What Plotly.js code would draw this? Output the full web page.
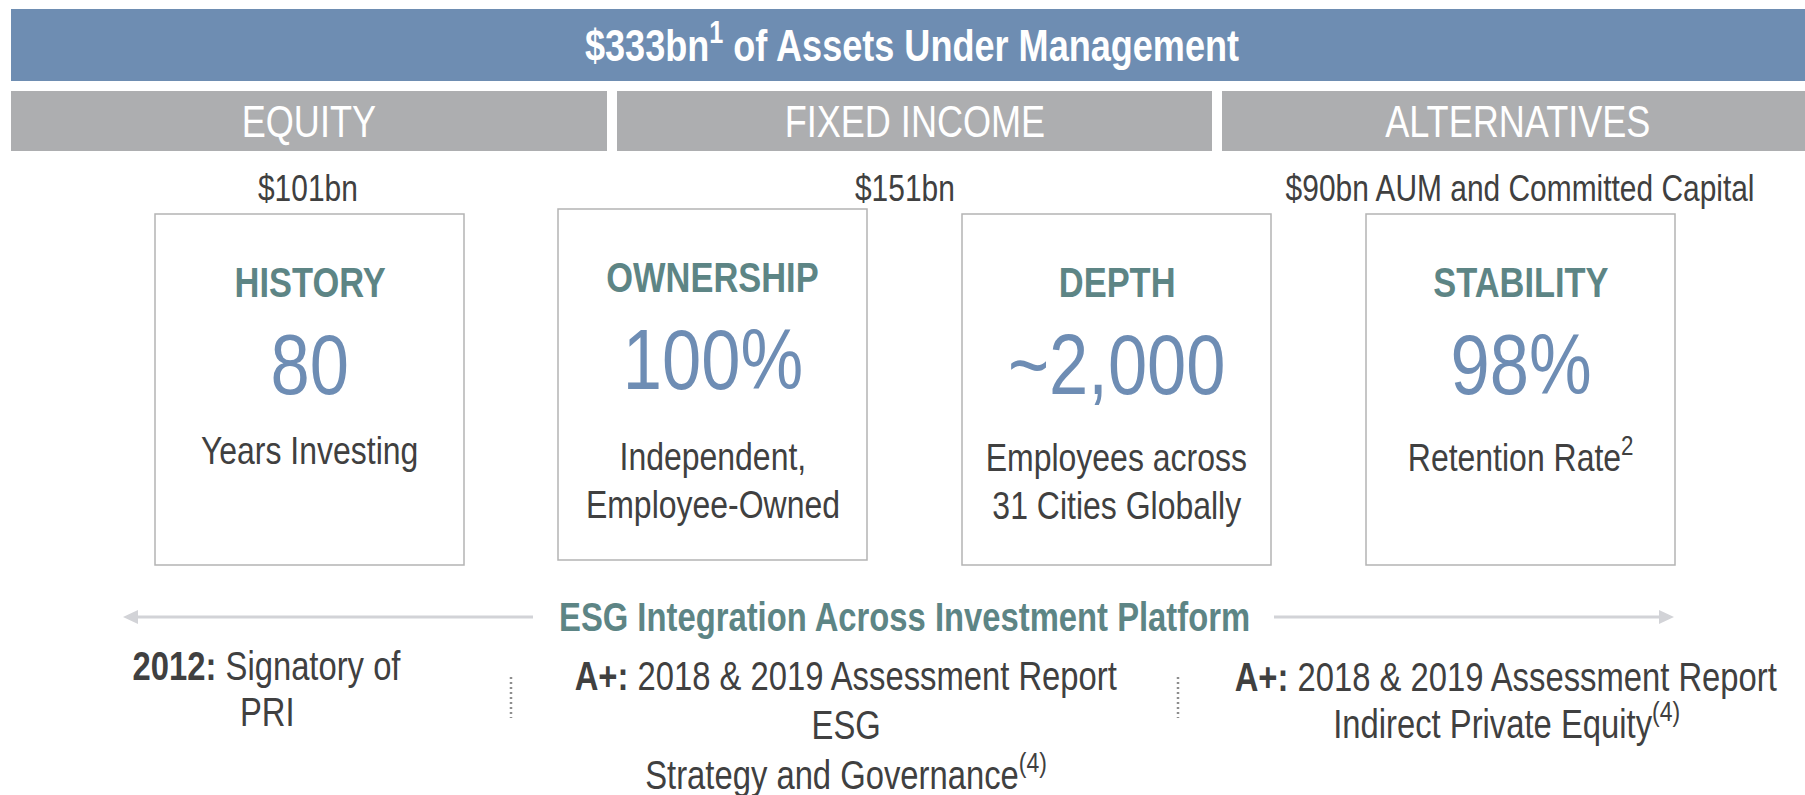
<!DOCTYPE html>
<html>
<head>
<meta charset="utf-8">
<script src="https://cdn.plot.ly/plotly-3.0.1.min.js"></script>
<style>
  html, body { margin: 0; padding: 0; background: #ffffff; overflow: hidden; }
  #chart { width: 1805px; height: 795px; }
</style>
</head>
<body>
<div id="chart"></div>
<script>
// ---------- data ----------
const totalAum = '$333bn<sup>1</sup> of Assets Under Management';
const categories = ['EQUITY', 'FIXED INCOME', 'ALTERNATIVES'];
const categoryAum = ['$101bn', '$151bn', '$90bn AUM and Committed Capital'];
const pillars = ['HISTORY', 'OWNERSHIP', 'DEPTH', 'STABILITY'];
const pillarValues = ['80', '100%', '~2,000', '98%'];
const pillarLine1 = ['Years Investing', 'Independent,', 'Employees across', 'Retention Rate<sup>2</sup>'];
const pillarLine2 = ['', 'Employee-Owned', '31 Cities Globally', ''];
const esgTitle = 'ESG Integration Across Investment Platform';
const esgLine1 = ['<b>2012:</b> Signatory of', '<b>A+:</b> 2018 & 2019 Assessment Report', '<b>A+:</b> 2018 & 2019 Assessment Report'];
const esgLine2 = ['PRI', 'ESG', 'Indirect Private Equity<sup>(4)</sup>'];
const esgLine3 = ['', 'Strategy and Governance<sup>(4)</sup>', ''];

// ---------- styling / layout geometry ----------
const FONT = "'Liberation Sans', Arial, Helvetica, sans-serif";
const NARROW = 0.82;           // horizontal condensing (Arial Narrow look)
const H = 795;
const BLUE = '#6e8db2';
const GRAY = '#adaeb0';
const TEAL = '#5d8585';
const NUM = '#6e8db4';
const DARK = '#404040';
const BOXLINE = '#b4b4b4';

const catX0 = [11, 617, 1222];
const catX1 = [607, 1212, 1805];
const catTextX = [309, 915, 1518];
const aumX = [308, 905, 1520];

const boxX0 = [155, 558, 962, 1366];
const boxX1 = [464, 867, 1271, 1675];
const boxDy = [0, -5, 0, 0];
const descBase1 = [464, 470, 471, 471];

const noteX = [267, 846, 1506];
const noteBase1 = [680, 690, 691];
const noteBase2 = [726, 739, 738];
const noteBase3 = [0, 789, 0];
const sepX = [511, 1178];

const shapes = [];
const annotations = [];

// text placed by its baseline (pixels from top)
function txt(x, baseline, text, size, color, weight) {
  annotations.push({
    x: x, xref: 'x',
    y: 1 - (baseline + 0.212 * size) / H, yref: 'paper',
    xanchor: 'center', yanchor: 'bottom', showarrow: false,
    borderpad: 0, borderwidth: 0,
    text: text,
    font: { family: FONT, size: size, color: color, weight: weight || 400 }
  });
}

// banner
shapes.push({ type: 'rect', xref: 'x', yref: 'y', x0: 11, x1: 1805, y0: 9, y1: 81,
  fillcolor: BLUE, line: { width: 0 }, layer: 'below' });
txt(912, 61, totalAum, 44, '#ffffff', 700);

// category bars
categories.forEach((c, i) => {
  shapes.push({ type: 'rect', xref: 'x', yref: 'y', x0: catX0[i], x1: catX1[i], y0: 91, y1: 151,
    fillcolor: GRAY, line: { width: 0 }, layer: 'below' });
  txt(catTextX[i], 137, c, 44, '#ffffff', 400);
  txt(aumX[i], 201, categoryAum[i], 36.5, DARK, 400);
});

// pillar boxes
pillars.forEach((p, i) => {
  const dy = boxDy[i];
  const cx = (boxX0[i] + boxX1[i]) / 2;
  shapes.push({ type: 'rect', xref: 'x', yref: 'y', x0: boxX0[i], x1: boxX1[i], y0: 214 + dy, y1: 565 + dy,
    fillcolor: 'rgba(0,0,0,0)', line: { color: BOXLINE, width: 1.5 } });
  txt(cx, 297 + dy, p, 42, TEAL, 700);
  txt(cx, 394 + dy, pillarValues[i], 86, NUM, 400);
  txt(cx, descBase1[i], pillarLine1[i], 39, DARK, 400);
  if (pillarLine2[i]) txt(cx, descBase1[i] + 48, pillarLine2[i], 39, DARK, 400);
});

// ESG arrow
const arrowY = 617;
const ARROW = '#d2d3d7';
shapes.push({ type: 'line', xref: 'x', yref: 'y', x0: 135, x1: 533, y0: arrowY, y1: arrowY,
  line: { color: ARROW, width: 3 } });
shapes.push({ type: 'line', xref: 'x', yref: 'y', x0: 1274, x1: 1662, y0: arrowY, y1: arrowY,
  line: { color: ARROW, width: 3 } });
shapes.push({ type: 'path', xref: 'x', yref: 'y',
  path: `M123,${arrowY} L138,${arrowY - 7} L138,${arrowY + 7} Z`,
  fillcolor: ARROW, line: { width: 0 } });
shapes.push({ type: 'path', xref: 'x', yref: 'y',
  path: `M1674,${arrowY} L1659,${arrowY - 7} L1659,${arrowY + 7} Z`,
  fillcolor: ARROW, line: { width: 0 } });
txt(904, 631, esgTitle, 40, TEAL, 700);

// separators
sepX.forEach(x => {
  shapes.push({ type: 'line', xref: 'x', yref: 'y', x0: x, x1: x, y0: 677, y1: 718,
    line: { color: '#8e8e8e', width: 2.5, dash: '2px,3px' } });
});

// ESG notes
esgLine1.forEach((t, i) => {
  txt(noteX[i], noteBase1[i], t, 40, DARK, 400);
  if (esgLine2[i]) txt(noteX[i], noteBase2[i], esgLine2[i], 40, DARK, 400);
  if (esgLine3[i]) txt(noteX[i], noteBase3[i], esgLine3[i], 40, DARK, 400);
});

const layout = {
  width: 1805, height: H,
  margin: { l: 0, r: 0, t: 0, b: 0 },
  paper_bgcolor: '#ffffff', plot_bgcolor: '#ffffff',
  xaxis: { range: [0, 1805], visible: false, fixedrange: true },
  yaxis: { range: [H, 0], visible: false, fixedrange: true },
  showlegend: false,
  shapes: shapes,
  annotations: annotations
};

Plotly.newPlot('chart', [], layout, { staticPlot: true, displayModeBar: false }).then(gd => {
  // condense annotation text horizontally around its own centre (narrow typeface look)
  gd.querySelectorAll('text.annotation-text').forEach(t => {
    const bb = t.getBBox();
    const cx = bb.x + bb.width / 2;
    t.setAttribute('transform', `translate(${cx},0) scale(${NARROW},1) translate(${-cx},0)`);
  });
});
</script>
</body>
</html>
